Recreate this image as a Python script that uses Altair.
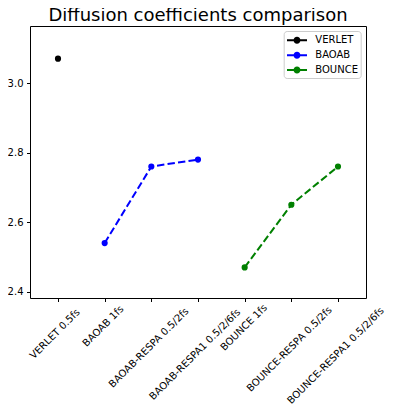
import altair as alt
import pandas as pd

# ---- data ----
categories = [
    "VERLET 0.5fs",
    "BAOAB 1fs",
    "BAOAB-RESPA 0.5/2fs",
    "BAOAB-RESPA1 0.5/2/6fs",
    "BOUNCE 1fs",
    "BOUNCE-RESPA 0.5/2fs",
    "BOUNCE-RESPA1 0.5/2/6fs",
]
series_names = ["VERLET", "BAOAB", "BOUNCE"]
series_colors = ["black", "blue", "green"]

verlet_cats = ["VERLET 0.5fs"]
verlet_vals = [3.07]
baoab_cats = ["BAOAB 1fs", "BAOAB-RESPA 0.5/2fs", "BAOAB-RESPA1 0.5/2/6fs"]
baoab_vals = [2.54, 2.76, 2.78]
bounce_cats = ["BOUNCE 1fs", "BOUNCE-RESPA 0.5/2fs", "BOUNCE-RESPA1 0.5/2/6fs"]
bounce_vals = [2.47, 2.65, 2.76]

y_ticks = [2.4, 2.6, 2.8, 3.0]
y_domain = [2.382, 3.164]

color_of = dict(zip(series_names, series_colors))
rows = []
for name, cats, vals in [
    ("VERLET", verlet_cats, verlet_vals),
    ("BAOAB", baoab_cats, baoab_vals),
    ("BOUNCE", bounce_cats, bounce_vals),
]:
    for c, v in zip(cats, vals):
        rows.append({"series": name, "method": c, "D": v,
                     "idx": categories.index(c), "col": color_of[name]})
df = pd.DataFrame(rows)
labels_df = pd.DataFrame({"method": categories})

FONT = "DejaVu Sans"
NB = "\u00a0"

x_scale = alt.Scale(type="point", domain=categories, padding=0.6)
x_enc = alt.X(
    "method:N",
    scale=x_scale,
    axis=alt.Axis(
        title=None, domain=False, grid=False, labels=False,
        tickSize=3.5, tickColor="black", tickWidth=1,
    ),
)
y_scale = alt.Scale(domain=y_domain, nice=False, zero=False)
y_enc = alt.Y(
    "D:Q",
    scale=y_scale,
    axis=alt.Axis(
        title=None, domain=False, grid=False, values=y_ticks, format=".1f",
        tickSize=3.5, tickColor="black", tickWidth=1, labelPadding=3.5,
        labelFont=FONT, labelFontSize=10, labelColor="black",
    ),
)
color_scale = alt.Scale(domain=series_names, range=series_colors)

# legend handle: short line with a dot, like matplotlib's
sym = ("M-1.4286,-0.1429H1.4286V0.1429H-1.4286Z "
       "M-0.5,0A0.5,0.5,0,1,1,0.5,0A0.5,0.5,0,1,1,-0.5,0Z")

lines = alt.Chart(df).mark_line(strokeWidth=2, strokeDash=[7.4, 3.2]).encode(
    x=x_enc, y=y_enc,
    stroke=alt.Stroke("col:N", scale=None),
    detail="series:N",
    order=alt.Order("idx:Q"),
)
points = alt.Chart(df).mark_point(filled=True, size=38, opacity=1).encode(
    x=x_enc, y=y_enc,
    color=alt.Color(
        "series:N", scale=color_scale,
        legend=alt.Legend(
            title=None, orient="none", legendX=253.7, legendY=5,
            padding=2.3,
            symbolType=sym, symbolSize=196, symbolStrokeWidth=0,
            symbolOffset=4, labelOffset=11.3, rowPadding=2.85,
            labelFont=FONT, labelFontSize=10, labelColor="black",
            labelExpr=f"datum.label + '{NB}'",
            fillColor="white", strokeColor="#cccccc", cornerRadius=3,
        ),
    ),
)

# tick labels rotated 45 deg, bounding box centred under each tick (matplotlib style);
# the shift along / across the text grows with the label's estimated length
tick_labels = (
    alt.Chart(labels_df)
    .transform_calculate(L="length(datum.method) * 5.79")
    .mark_text(
        angle=315, align="left", baseline="alphabetic",
        font=FONT, fontSize=10, color="black",
        dx=alt.ExprRef(expr="-0.75*datum.L - 8.5"),
        dy=alt.ExprRef(expr="0.25*datum.L + 9"),
    )
    .encode(
        x=alt.X("method:N", scale=x_scale),
        y=alt.datum(y_domain[0], scale=y_scale),
        text="method:N",
    )
)

chart = (
    alt.layer(lines, points, tick_labels)
    .properties(
        width=336, height=272,
        title=alt.TitleParams(
            "Diffusion coefficients comparison",
            font=FONT, fontSize=18, fontWeight="normal", color="black",
            anchor="middle", offset=1,
        ),
        autosize=alt.AutoSizeParams(type="none"),
        padding={"left": 22, "top": 18, "right": 20, "bottom": 107},
        background="white",
    )
    .configure(font=FONT)
    .configure_view(stroke="black", strokeWidth=1, fill="white")
)

chart.save("out.html", embed_options={"renderer": "svg", "actions": False})
